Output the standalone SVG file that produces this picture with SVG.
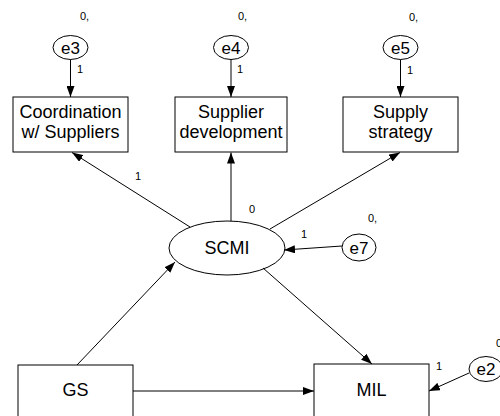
<svg xmlns="http://www.w3.org/2000/svg" width="500" height="416" viewBox="0 0 500 416">
<style>
.n{fill:#fff;stroke:#000;stroke-width:1}
.t{font-family:"Liberation Sans",Arial,sans-serif;font-size:18px;fill:#000;text-anchor:middle}
.e{font-family:"Liberation Sans",Arial,sans-serif;font-size:17px;fill:#000;text-anchor:middle}
.s{font-family:"Liberation Sans",Arial,sans-serif;font-size:11px;fill:#000}
.c line{stroke:#000;stroke-width:1;marker-end:url(#a)}
</style>
<defs>
<marker id="a" markerUnits="userSpaceOnUse" markerWidth="11" markerHeight="8" refX="11" refY="4" orient="auto">
<path d="M0,0 L11,4 L0,8 z" fill="#000"/>
</marker>
</defs>
<rect width="500" height="416" fill="#fff"/>
<g id="e3"><ellipse class="n" cx="70.5" cy="47.5" rx="17.5" ry="12"/><text class="e" x="70.5" y="53.5">e3</text><text class="s" x="80" y="20">0,</text></g>
<g id="e4"><ellipse class="n" cx="231" cy="47.5" rx="17.5" ry="12"/><text class="e" x="231" y="53.5">e4</text><text class="s" x="238" y="20">0,</text></g>
<g id="e5"><ellipse class="n" cx="400.5" cy="47.5" rx="17.5" ry="12"/><text class="e" x="400.5" y="53.5">e5</text><text class="s" x="409" y="21">0,</text></g>
<g id="coord"><rect class="n" x="13" y="97" width="115" height="55"/><text class="t" x="70.5" y="118">Coordination</text><text class="t" x="70.5" y="138">w/ Suppliers</text></g>
<g id="supdev"><rect class="n" x="175" y="97" width="112" height="55"/><text class="t" x="231" y="118">Supplier</text><text class="t" x="231" y="138">development</text></g>
<g id="supstrat"><rect class="n" x="343" y="97" width="115" height="55"/><text class="t" x="400.5" y="118">Supply</text><text class="t" x="400.5" y="138">strategy</text></g>
<g id="scmi"><ellipse class="n" cx="227" cy="248" rx="58" ry="27"/><text class="t" x="227" y="254">SCMI</text><text class="s" x="249" y="213">0</text></g>
<g id="e7"><ellipse class="n" cx="359" cy="247.5" rx="17" ry="13.5"/><text class="e" x="359" y="253.5">e7</text><text class="s" x="368" y="222">0,</text></g>
<g id="gs"><rect class="n" x="18" y="365" width="115" height="60"/><text class="t" x="75.5" y="396">GS</text></g>
<g id="mil"><rect class="n" x="314" y="364" width="115" height="60"/><text class="t" x="371.5" y="396">MIL</text></g>
<g id="e2"><ellipse class="n" cx="486" cy="369" rx="17" ry="12.5"/><text class="e" x="486" y="375">e2</text><text class="s" x="496" y="347">0,</text></g>
<g id="connectors" class="c">
<line x1="70.5" y1="59.5" x2="70.5" y2="97"/>
<line x1="231" y1="59.5" x2="231" y2="97"/>
<line x1="400.5" y1="59.5" x2="400.5" y2="97"/>
<line x1="190" y1="227" x2="72" y2="152.5"/>
<line x1="231" y1="221" x2="231" y2="152.5"/>
<line x1="270" y1="229" x2="400" y2="152.5"/>
<line x1="342" y1="246" x2="284" y2="250"/>
<line x1="77" y1="365" x2="175" y2="262"/>
<line x1="263" y1="268" x2="372" y2="364"/>
<line x1="133" y1="391" x2="314" y2="391"/>
<line x1="469" y1="373" x2="429" y2="391"/>
</g>
<g id="labels">
<text class="s" x="77" y="73">1</text>
<text class="s" x="237" y="73">1</text>
<text class="s" x="407" y="74">1</text>
<text class="s" x="135" y="180">1</text>
<text class="s" x="301" y="238">1</text>
<text class="s" x="436" y="370">1</text>
</g>
</svg>
